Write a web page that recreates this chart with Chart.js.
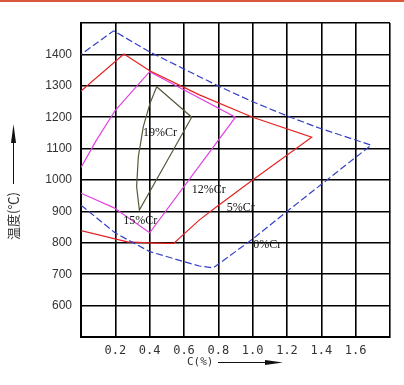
<!DOCTYPE html>
<html lang="zh">
<head>
  <meta charset="UTF-8" />
  <title>Cr含量与碳含量对温度区域的影响</title>
  <script src="https://cdn.jsdelivr.net/npm/chart.js"></script>
  <style>
    body {
      margin: 0;
      background: #fff;
    }
    #wrap {
      position: relative;
      width: 404px;
      height: 385px;
    }
    canvas {
      position: absolute;
      left: 0;
      top: 0;
    }
  </style>
</head>
<body>
  <div id="wrap">
    <canvas id="crChart" width="404" height="385"></canvas>
  </div>

  <script>
    // tick labels (blank at the edges, like the original)
    const xTickLabels = ['', '0.2', '0.4', '0.6', '0.8', '1.0', '1.2', '1.4', '1.6', ''];
    const yTickLabels = ['', '600', '700', '800', '900', '1000', '1100', '1200', '1300', '1400', ''];

    // 0%Cr (blue dashed)
    const c0C = [0, 0.2, 0.4, 0.6, 0.69, 0.77, 1.0, 1.2, 1.69, 1.39, 1.22, 1.0, 0.81, 0.69, 0.40, 0.19, 0];
    const c0T = [920, 831, 772, 740, 726, 720, 812, 900, 1111, 1165, 1200, 1249, 1297, 1329, 1408, 1475, 1400];

    // 5%Cr (red)
    const c5C = [0, 0.25, 0.40, 0.69, 1.0, 1.344, 1.0, 0.79, 0.69, 0.54, 0.50, 0.40, 0.27, 0];
    const c5T = [1283, 1401, 1348, 1271, 1200, 1136, 1000, 915, 873, 798, 798, 800, 803, 839];

    // 12%Cr / 15%Cr (magenta)
    const c12C = [0, 0.09, 0.20, 0.40, 0.90, 0.40, 0.19, 0];
    const c12T = [1040, 1127, 1222, 1345, 1200, 832, 912, 958];

    // 19%Cr (olive)
    const c19C = [0.441, 0.645, 0.34, 0.324, 0.334, 0.363, 0.402, 0.441];
    const c19T = [1297, 1200, 904, 979, 1074, 1170, 1244, 1297];

    // curve labels: text, C (left edge), T (middle)
    const labelText = ['19%Cr', '12%Cr', '5%Cr', '15%Cr', '0%Cr'];
    const labelC = [0.361, 0.645, 0.849, 0.246, 1.004];
    const labelT = [1150, 970, 911, 869, 795];

    const pts = (cs, ts) => cs.map((c, i) => ({ x: c, y: ts[i] }));

    function line(label, cs, ts, color, dash) {
      return {
        label: label,
        data: pts(cs, ts),
        showLine: true,
        borderColor: color,
        borderWidth: 1.2,
        borderDash: dash || [],
        pointRadius: 0,
        fill: false,
        tension: 0
      };
    }

    const extras = {
      id: 'extras',
      afterDraw(chart) {
        const ctx = chart.ctx;
        const xs = chart.scales.x, ys = chart.scales.y;
        ctx.save();

        // orange rule along the top
        ctx.fillStyle = '#d9583c';
        ctx.fillRect(0, 0, 404, 2);

        // curve labels
        ctx.fillStyle = '#111';
        ctx.font = '12px "Liberation Serif", serif';
        ctx.textAlign = 'left';
        ctx.textBaseline = 'middle';
        labelText.forEach((t, i) => {
          ctx.fillText(t, xs.getPixelForValue(labelC[i]), ys.getPixelForValue(labelT[i]));
        });

        // x axis title + arrow
        ctx.fillStyle = '#333';
        ctx.font = '11px "DejaVu Sans Mono", monospace';
        ctx.fillText('C(%)', 187, 362);
        ctx.strokeStyle = '#111';
        ctx.lineWidth = 1;
        ctx.beginPath();
        ctx.moveTo(218, 362.5);
        ctx.lineTo(268, 362.5);
        ctx.stroke();
        ctx.fillStyle = '#111';
        ctx.beginPath();
        ctx.moveTo(265, 360);
        ctx.lineTo(283, 362.5);
        ctx.lineTo(265, 365);
        ctx.closePath();
        ctx.fill();

        // y axis title + arrow
        ctx.beginPath();
        ctx.moveTo(13.5, 184);
        ctx.lineTo(13.5, 135);
        ctx.stroke();
        ctx.beginPath();
        ctx.moveTo(11, 143);
        ctx.lineTo(13.5, 124);
        ctx.lineTo(16, 143);
        ctx.closePath();
        ctx.fill();

        ctx.translate(13, 216);
        ctx.rotate(-Math.PI / 2);
        ctx.fillStyle = '#333';
        ctx.font = '13px "Noto Sans CJK SC", sans-serif';
        ctx.textAlign = 'center';
        ctx.fillText('温度(℃)', 0, 0);
        ctx.restore();
      }
    };

    const chart = new Chart(document.getElementById('crChart'), {
      type: 'scatter',
      data: {
        datasets: [
          line('0%Cr', c0C, c0T, '#3440c8', [7, 3]),
          line('5%Cr', c5C, c5T, '#e42222'),
          line('12%Cr', c12C, c12T, '#e040e0'),
          line('19%Cr', c19C, c19T, '#555a38')
        ]
      },
      options: {
        responsive: false,
        animation: false,
        layout: { padding: { top: 23, right: 14, left: 0, bottom: 0 } },
        plugins: {
          legend: { display: false },
          tooltip: { enabled: false }
        },
        scales: {
          x: {
            type: 'linear',
            min: 0,
            max: 1.8,
            afterFit: s => { s.height = 48; },
            grid: { color: '#000', lineWidth: 1.6, drawTicks: false },
            border: { color: '#000', width: 2 },
            ticks: {
              stepSize: 0.2,
              padding: 7,
              color: '#333',
              font: { family: 'DejaVu Sans Mono', size: 12 },
              callback: (v, i) => xTickLabels[i]
            }
          },
          y: {
            min: 500,
            max: 1500,
            afterFit: s => { s.width = 81; },
            grid: { color: '#000', lineWidth: 1.6, drawTicks: false },
            border: { color: '#000', width: 2 },
            ticks: {
              stepSize: 100,
              padding: 9,
              color: '#333',
              font: { family: 'Liberation Sans', size: 12 },
              callback: (v, i) => yTickLabels[i]
            }
          }
        }
      },
      plugins: [extras]
    });
  </script>
</body>
</html>
